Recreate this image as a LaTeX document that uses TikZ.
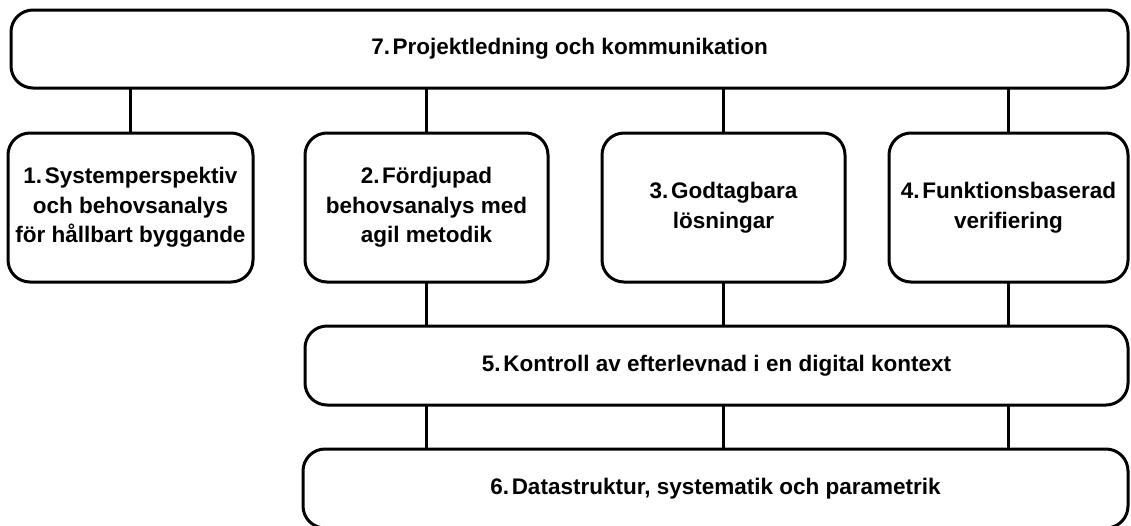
\documentclass[tikz,border=0pt]{standalone}
\usepackage{fontspec}
\setmainfont{Liberation Sans}
\newcommand{\nsp}{\hspace{0.12em}}
\begin{document}
\begin{tikzpicture}[x=1pt,y=-1pt,
  box/.style={draw=black, line width=3pt, rounded corners=22pt, inner sep=0pt, outer sep=0pt, align=center, font=\fontsize{22.5}{29.5}\selectfont\bfseries},
  link/.style={draw=black, line width=3pt}]
\useasboundingbox (0,0) rectangle (1131,525);
\node[box, minimum width=1117pt, minimum height=78pt] (top) at (569.5,49) {7.\nsp Projektledning och kommunikation};
\node[box, minimum width=245pt, minimum height=149pt] (b1) at (130.5,207.5) {1.\nsp Systemperspektiv\\och behovsanalys\\för hållbart byggande};
\node[box, minimum width=243pt, minimum height=149pt] (b2) at (426.5,207.5) {2.\nsp Fördjupad\\behovsanalys med\\agil metodik};
\node[box, minimum width=243pt, minimum height=149pt] (b3) at (723.5,207.5) {3.\nsp Godtagbara\\lösningar};
\node[box, minimum width=239pt, minimum height=149pt] (b4) at (1008.5,207.5) {4.\nsp Funktionsbaserad\\verifiering};
\node[box, minimum width=823pt, minimum height=79pt] (b5) at (716.5,365.5) {5.\nsp Kontroll av efterlevnad i en digital kontext};
\node[box, minimum width=825pt, minimum height=79pt] (b6) at (715.5,488.5) {6.\nsp Datastruktur, systematik och parametrik};
\draw[link] (b1.north) -- (b1.north |- top.south);
\draw[link] (b2.north) -- (b2.north |- top.south);
\draw[link] (b3.north) -- (b3.north |- top.south);
\draw[link] (b4.north) -- (b4.north |- top.south);
\draw[link] (b2.south) -- (b2.south |- b5.north);
\draw[link] (b3.south) -- (b3.south |- b5.north);
\draw[link] (b4.south) -- (b4.south |- b5.north);
\draw[link] (b5.south -| b2.south) -- (b6.north -| b2.south);
\draw[link] (b5.south -| b3.south) -- (b6.north -| b3.south);
\draw[link] (b5.south -| b4.south) -- (b6.north -| b4.south);
\end{tikzpicture}
\end{document}
